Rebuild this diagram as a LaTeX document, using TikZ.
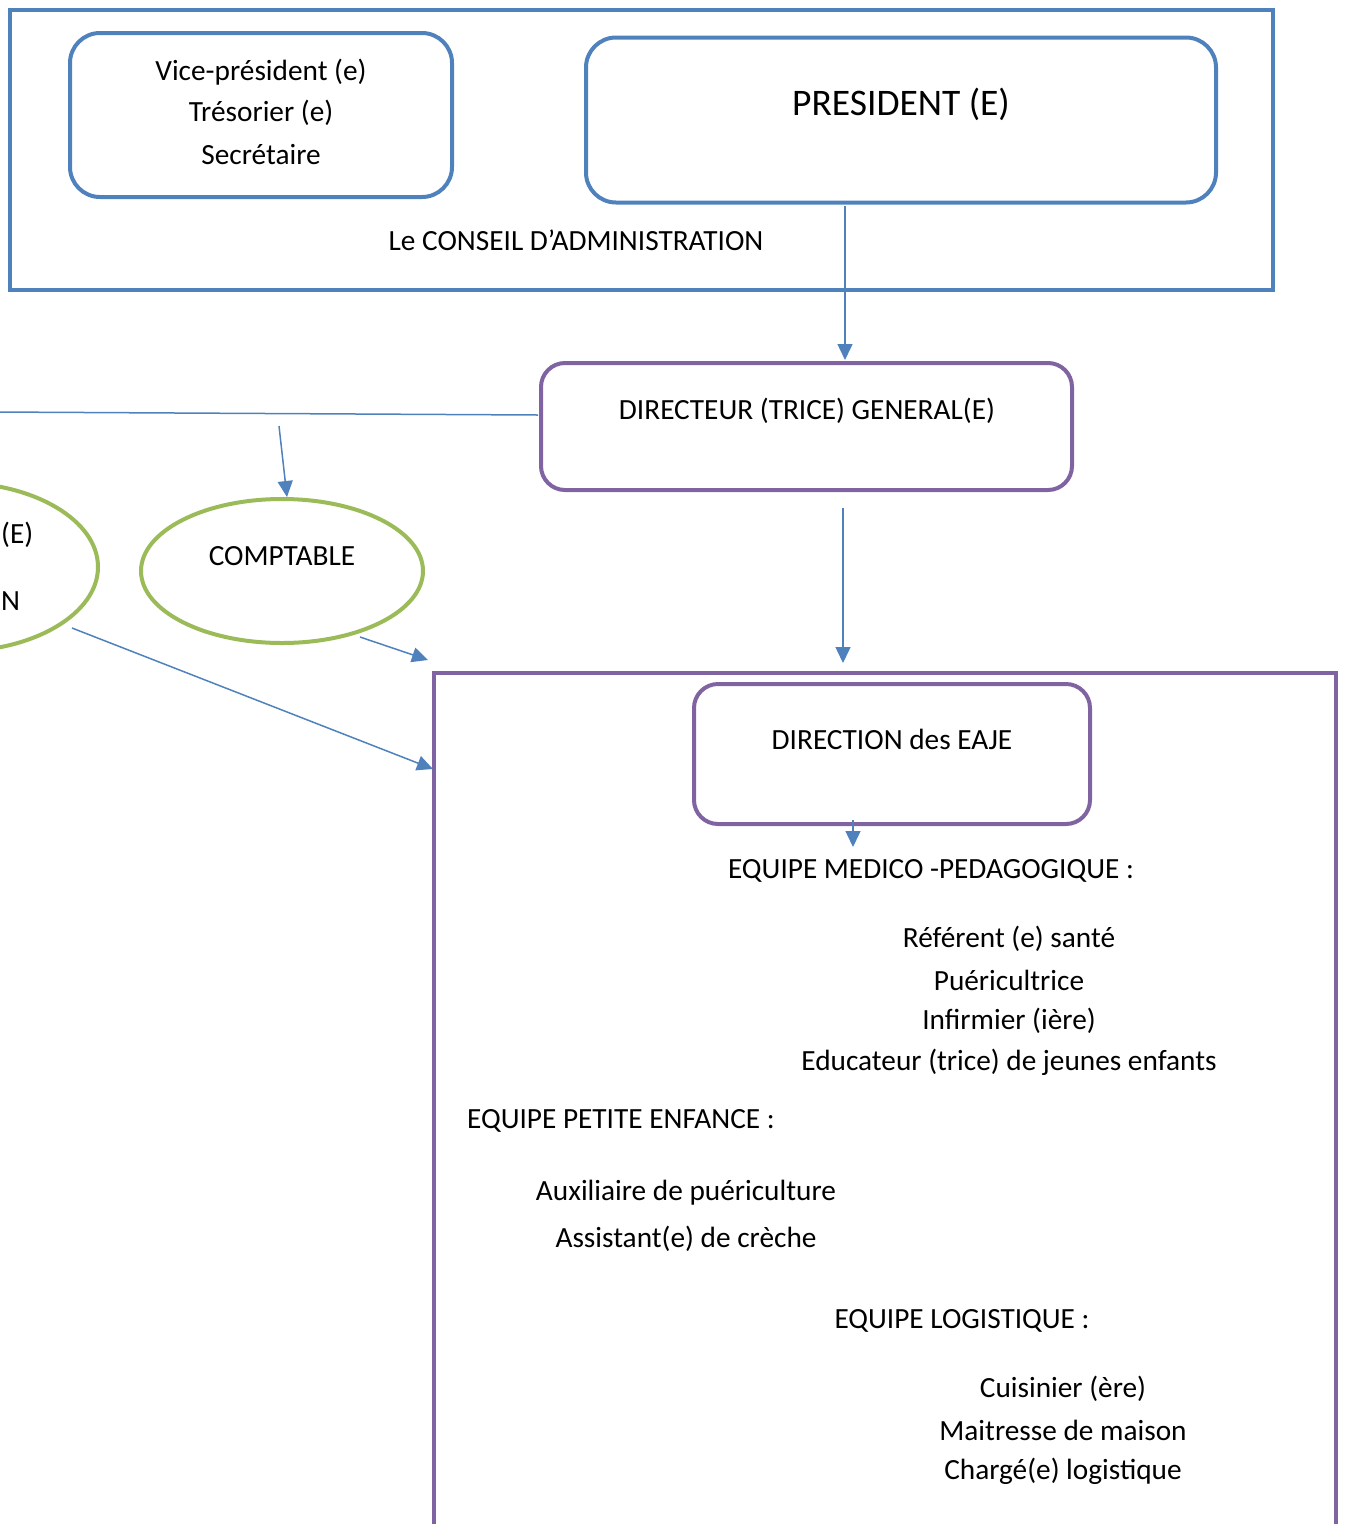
\documentclass[tikz,border=0pt]{standalone}
\usepackage{fontspec}
\setmainfont{Carlito}
\usetikzlibrary{shapes.geometric,arrows.meta}
\definecolor{obl}{HTML}{4F81BD}
\definecolor{opu}{HTML}{8064A2}
\definecolor{ogr}{HTML}{9BBB59}
\tikzset{
  txt/.style={font=\fontsize{29.3}{41}\selectfont, inner sep=0pt, align=center},
  bluebox/.style={draw=obl, line width=4pt, rounded corners=30pt},
  purbox/.style={draw=opu, line width=4pt, rounded corners=24pt},
  greenell/.style={draw=ogr, line width=4pt, ellipse},
  conn/.style={draw=obl, line width=1.5pt, -{Triangle[length=16pt,width=15pt]}},
}
\begin{document}
\begin{tikzpicture}[x=1pt,y=-1pt]
\useasboundingbox (0,0) rectangle (1346,1524);
\clip (0,0) rectangle (1346,1524);
% Conseil d'administration frame
\draw[draw=obl, line width=4pt] (10,10) rectangle (1273,290);
\node[bluebox, minimum width=382pt, minimum height=164pt] (vice) at (261,115) {};
\node[txt] at (261,72) {Vice-président (e)};
\node[txt] at (261,113) {Trésorier (e)};
\node[txt] at (261,155) {Secrétaire};
\node[bluebox, minimum width=630pt, minimum height=165pt] (pres) at (901,120) {};
\node[txt, font=\fontsize{37.5}{44}\selectfont] at (901,104) {PRESIDENT (E)};
\node[txt] (ca) at (576,240) {Le CONSEIL D’ADMINISTRATION};
% Directeur general
\node[purbox, minimum width=531pt, minimum height=127pt] (dg) at (806.5,426.5) {};
\node[txt] at (807,411) {DIRECTEUR (TRICE) GENERAL(E)};
\coordinate (p1) at (845,206);
\coordinate (p2) at (845,360);
\draw[conn] (p1) -- (p2);
% horizontal line
\coordinate (h1) at (538,415);
\coordinate (h0) at (-5,412);
\draw[draw=obl, line width=1.5pt] (h1) -- (h0);
% left ellipse (partly outside)
\node[greenell, minimum width=286pt, minimum height=169pt] (left) at (-45,567) {};
\node[txt, anchor=west] at (1,535) {(E)};
\node[txt, anchor=west] at (1,601) {N};
% comptable
\node[greenell, minimum width=282pt, minimum height=144pt] (compt) at (282,571) {};
\node[txt] at (282,556) {COMPTABLE};
\coordinate (c1) at (279,426);
\coordinate (c2) at (287,497);
\draw[conn] (c1) -- (c2);
% big EAJE frame
\draw[draw=opu, line width=4pt] (434,1530) -- (434,673) -- (1336,673) -- (1336,1530);
\coordinate (d1) at (843,508);
\coordinate (d2) at (843,663);
\draw[conn] (d1) -- (d2);
\coordinate (e1) at (360,637);
\coordinate (e2) at (428,660);
\draw[conn] (e1) -- (e2);
\coordinate (f1) at (72,628);
\coordinate (f2) at (433,769);
\draw[conn] (f1) -- (f2);
% direction des EAJE
\node[purbox, minimum width=396pt, minimum height=140pt] (dir) at (892,754) {};
\node[txt] at (892,739) {DIRECTION des EAJE};
\coordinate (g1) at (853,820);
\coordinate (g2) at (853,847);
\draw[conn] (g1) -- (g2);
% teams
\node[txt] (med) at (931,871) {EQUIPE MEDICO -PEDAGOGIQUE :};
\node[txt] at (1009,939) {Référent (e) santé};
\node[txt] at (1009,980) {Puéricultrice};
\node[txt] at (1009,1021) {Infirmier (ière)};
\node[txt] at (1009,1062) {Educateur (trice) de jeunes enfants};
\node[txt, anchor=west] (pe) at (467,1121) {EQUIPE PETITE ENFANCE :};
\node[txt] at (686,1193) {Auxiliaire de puériculture};
\node[txt] at (686,1239) {Assistant(e) de crèche};
\node[txt] (log) at (962,1321) {EQUIPE LOGISTIQUE :};
\node[txt] at (1063,1389) {Cuisinier (ère)};
\node[txt] at (1063,1430) {Maitresse de maison};
\node[txt] at (1063,1471) {Chargé(e) logistique};
\end{tikzpicture}
\end{document}
